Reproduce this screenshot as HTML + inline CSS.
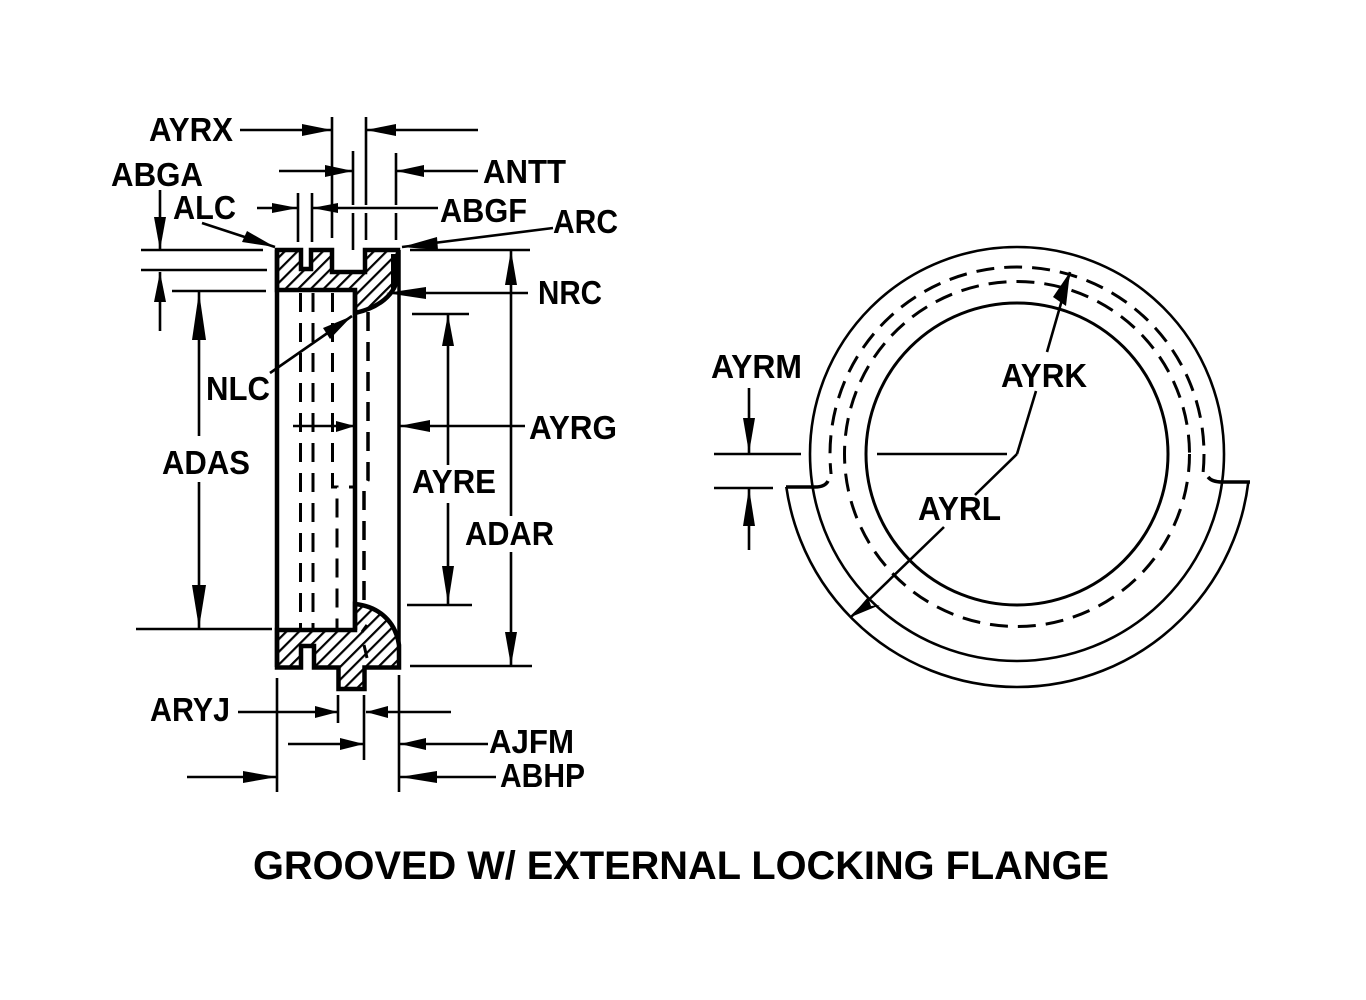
<!DOCTYPE html>
<html><head><meta charset="utf-8"><style>
html,body{margin:0;padding:0;background:#fff}
svg{display:block}
text{font-family:"Liberation Sans",sans-serif;font-weight:bold;font-size:33px;fill:#000}
</style></head><body>
<svg width="1366" height="1000" viewBox="0 0 1366 1000" xmlns="http://www.w3.org/2000/svg">
<defs>
<pattern id="h" width="9" height="9" patternUnits="userSpaceOnUse" patternTransform="rotate(45)">
<rect width="9" height="9" fill="#fff"/><rect x="0" y="0" width="2.2" height="9" fill="#000"/>
</pattern>
<clipPath id="up"><rect x="700" y="200" width="600" height="274"/></clipPath>
<clipPath id="low"><polygon points="700,487 1017,487 1017,482 1300,482 1300,720 700,720"/></clipPath>
</defs>

<!-- section -->
<g stroke="#000" stroke-linejoin="miter" fill="none">
<path d="M277,250 H301 V269 H311 V250 H332 V272 H365 V250 H398 V275 C396,295 378,308 355,313 V290 H277 Z" fill="url(#h)" stroke-width="4.5"/>
<path d="M277,630 H355 V604 C375,606 395,618 399,645 V667.5 H364.5 V689 H338.5 V667.5 H314 V646 H301 V667.5 H277 Z" fill="url(#h)" stroke-width="4.5"/>
<path d="M277,250 V667 M355,290 V630" stroke-width="4.5"/>
<path d="M399,250 V665" stroke-width="3.5"/>
<path d="M391,254 L398,254 V278 L391,290 Z" fill="#000" stroke="none"/>
</g>
<path d="M362,632 L367,625 M364,645 L367,658" stroke="#000" stroke-width="3"/>

<!-- hidden dashed lines -->
<g stroke="#000" stroke-width="3" fill="none" stroke-dasharray="19 11">
<path d="M300.5,293 V628"/>
<path d="M313,293 V628"/>
<path d="M332.5,293 V487 H337 V628"/>
<path d="M368,312 V480 L364,488 V605" stroke-width="3.5"/>
</g>
<path d="M349,487 H354" stroke="#000" stroke-width="3"/>

<!-- dimension / extension lines -->
<g stroke="#000" stroke-width="2.6" fill="none">
<path d="M332,117 V238 M353,151 V205 M353,213 V250 M366,117 V205 M366,213 V240 M396,153 V205 M396,213 V240 M298,193 V242 M312,193 V242"/>
<path d="M240,130 H332 M366,130 H478 M279,171 H353 M396,171 H478 M257,208 H298 M312,208 H438"/>
<path d="M141,250 H263 M141,270 H267 M172,291 H266 M136,629 H272 M410,250 H530 M410,666 H532 M412,314 H469 M407,605 H472"/>
<path d="M160,190 V250 M160,272 V331 M199,292 V436 M199,482 V628 M511,250 V516 M511,552 V666 M448,314 V465 M448,503 V604"/>
<path d="M528,293 H390 M525,426 H399 M293,426 H353"/>
<path d="M270,373 L352,316 M202,223 L275,247 M553,228 L402,247"/>
<path d="M277,678 V792 M399,675 V792 M338,695 V723 M364,695 V760"/>
<path d="M238,712 H338 M366,712 H451 M288,744 H364 M400,744 H488 M187,777 H277 M400,777 H496"/>
<path d="M714,454 H801 M714,488 H773 M749,388 V453 M749,488 V550"/>
<path d="M877,454 H1007"/>
<path d="M1017,454 L1036,391 M1047,352 L1070,272"/>
<path d="M1017,454 L975,495 M944,527 L851,617"/>
</g>

<!-- arrowheads -->
<g fill="#000">
<polygon points="332,130 302,124 302,136"/>
<polygon points="366,130 396,124 396,136"/>
<polygon points="353,171 325,165 325,177"/>
<polygon points="396,171 424,165 424,177"/>
<polygon points="298,208 272,203 272,213"/>
<polygon points="312,208 338,203 338,213"/>
<polygon points="160,250 154,217 166,217"/>
<polygon points="160,272 154,302 166,302"/>
<polygon points="199,292 192,340 206,340"/>
<polygon points="199,628 192,585 206,585"/>
<polygon points="511,250 505,285 517,285"/>
<polygon points="511,666 505,632 517,632"/>
<polygon points="448,314 442,346 454,346"/>
<polygon points="448,604 442,566 454,566"/>
<polygon points="386,293 426,287 426,299"/>
<polygon points="399,426 430,420 430,432"/>
<polygon points="355,426 336,421 336,432"/>
<polygon points="352,316 330,339 323,328"/>
<polygon points="275,247 242,242 247,231"/>
<polygon points="402,247 437,237 438,250"/>
<polygon points="338,712 315,706 315,718"/>
<polygon points="366,712 388,706 388,718"/>
<polygon points="364,744 340,738 340,750"/>
<polygon points="400,744 426,738 426,750"/>
<polygon points="277,777 243,771 243,783"/>
<polygon points="400,777 437,771 437,783"/>
<polygon points="749,453 743,418 755,418"/>
<polygon points="749,488 743,526 755,526"/>
<polygon points="1070,272 1066,306 1053,297"/>
<polygon points="851,617 868,597 871,606 880,605"/>
</g>

<!-- circles -->
<g stroke="#000" fill="none">
<circle cx="1017" cy="454" r="151" stroke-width="3"/>
<circle cx="1017" cy="454" r="207" stroke-width="2.6"/>
<circle cx="1017" cy="454" r="172.5" stroke-width="3" stroke-dasharray="18 10"/>
<circle cx="1017" cy="454" r="187" stroke-width="3" stroke-dasharray="18 10" clip-path="url(#up)"/>
<circle cx="1017" cy="454" r="233" stroke-width="2.6" clip-path="url(#low)"/>
<path d="M786,487 H815 Q825,487 828,481" stroke-width="3.5"/>
<path d="M1250,482 H1222 Q1212,482 1208,477" stroke-width="3.5"/>
</g>

<!-- labels -->
<text x="149" y="141" textLength="84" lengthAdjust="spacingAndGlyphs">AYRX</text>
<text x="111" y="186" textLength="92" lengthAdjust="spacingAndGlyphs">ABGA</text>
<text x="173" y="219" textLength="63" lengthAdjust="spacingAndGlyphs">ALC</text>
<text x="440" y="222" textLength="87" lengthAdjust="spacingAndGlyphs">ABGF</text>
<text x="483" y="183" textLength="83" lengthAdjust="spacingAndGlyphs">ANTT</text>
<text x="553" y="233" textLength="65" lengthAdjust="spacingAndGlyphs">ARC</text>
<text x="538" y="304" textLength="64" lengthAdjust="spacingAndGlyphs">NRC</text>
<text x="206" y="400" textLength="64" lengthAdjust="spacingAndGlyphs">NLC</text>
<text x="162" y="474" textLength="88" lengthAdjust="spacingAndGlyphs">ADAS</text>
<text x="529" y="439" textLength="88" lengthAdjust="spacingAndGlyphs">AYRG</text>
<text x="412" y="493" textLength="84" lengthAdjust="spacingAndGlyphs">AYRE</text>
<text x="465" y="545" textLength="89" lengthAdjust="spacingAndGlyphs">ADAR</text>
<text x="150" y="721" textLength="80" lengthAdjust="spacingAndGlyphs">ARYJ</text>
<text x="489" y="753" textLength="85" lengthAdjust="spacingAndGlyphs">AJFM</text>
<text x="500" y="787" textLength="85" lengthAdjust="spacingAndGlyphs">ABHP</text>
<text x="711" y="378" textLength="91" lengthAdjust="spacingAndGlyphs">AYRM</text>
<text x="1001" y="387" textLength="86" lengthAdjust="spacingAndGlyphs">AYRK</text>
<text x="918" y="520" textLength="83" lengthAdjust="spacingAndGlyphs">AYRL</text>
<text x="253" y="879" style="font-size:40px" textLength="856" lengthAdjust="spacingAndGlyphs">GROOVED W/ EXTERNAL LOCKING FLANGE</text>
</svg>
</body></html>
